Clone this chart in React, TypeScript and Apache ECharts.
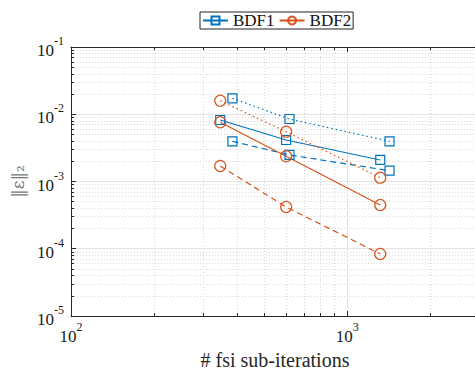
import React, { useEffect, useRef } from "react";
import * as echarts from "echarts";

const itersA = [347, 601, 1317];
const itersB = [384, 618, 1423];
const bdf1Solid = [0.00821, 0.00414, 0.00209];
const bdf1Dashed = [0.00396, 0.00248, 0.00145];
const bdf1Dotted = [0.01726, 0.0085, 0.00396];
const bdf2Solid = [0.0076, 0.00237, 0.000448];
const bdf2Dashed = [0.0017, 0.000418, 0.0000836];
const bdf2Dotted = [0.0159, 0.0055, 0.00114];

const xMinorTicks = [200, 300, 400, 500, 600, 700, 800, 900, 2000, 3000];
const yMinorTicks = [
  2e-5, 3e-5, 4e-5, 5e-5, 6e-5, 7e-5, 8e-5, 9e-5,
  2e-4, 3e-4, 4e-4, 5e-4, 6e-4, 7e-4, 8e-4, 9e-4,
  2e-3, 3e-3, 4e-3, 5e-3, 6e-3, 7e-3, 8e-3, 9e-3,
  2e-2, 3e-2, 4e-2, 5e-2, 6e-2, 7e-2, 8e-2, 9e-2,
];

const BLUE = "#0072BD";
const ORANGE = "#D95319";
const FONT = "Liberation Serif";

const zip = (xs: number[], ys: number[]) => xs.map((x, i) => [x, ys[i]]);

const expLabel = (v: number) => {
  const e = Math.log10(v);
  if (Math.abs(e - Math.round(e)) > 1e-6) return "";
  return "{b|10}{e|" + Math.round(e) + "}";
};

const rich = {
  b: { fontSize: 17, fontFamily: FONT, color: "#1a1a1a", lineHeight: 24, verticalAlign: "bottom" },
  e: { fontSize: 12, fontFamily: FONT, color: "#1a1a1a", lineHeight: 24, verticalAlign: "top" },
};

export default function App() {
  const ref = useRef<HTMLDivElement>(null);
  useEffect(() => {
    if (!ref.current) return;
    const chart = echarts.init(ref.current, null, { renderer: "svg" });
    const mkSeries = (
      name: string,
      xs: number[],
      ys: number[],
      color: string,
      type: any,
      symbol: string,
      size: number
    ) => ({
      name,
      type: "line",
      xAxisIndex: 0,
      yAxisIndex: 0,
      data: zip(xs, ys),
      symbol,
      symbolSize: size,
      showSymbol: true,
      lineStyle: { color, width: 1.2, type },
      itemStyle: { color: "rgba(0,0,0,0)", borderColor: color, borderWidth: 1.2 },
      emphasis: { disabled: true },
      z: 5,
    });
    const majorSplit = { show: true, lineStyle: { color: "#e3e3e3", width: 1 } };
    const minorSplit = { show: true, lineStyle: { color: "#d8d8d8", width: 1, type: [1, 2] } };
    const labelBase = { fontFamily: FONT, fontSize: 17, color: "#1a1a1a" };
    chart.setOption({
      animation: false,
      textStyle: { fontFamily: FONT },
      grid: {
        left: 71,
        top: 47,
        right: -4,
        bottom: 55,
        containLabel: false,
        outerBoundsMode: "none",
      },
      legend: {
        data: ["BDF1", "BDF2"],
        left: 200,
        top: 12,
        itemWidth: 25,
        itemHeight: 10,
        itemGap: 4,
        padding: [0, 2, 0, 2],
        borderColor: "#222",
        borderWidth: 1,
        backgroundColor: "#fff",
        textStyle: { fontFamily: FONT, fontSize: 17, lineHeight: 14, color: "#111" },
      },
      xAxis: [
        {
          type: "log",
          logBase: 10,
          min: 100,
          max: 3000,
          position: "bottom",
          axisLine: { show: true, lineStyle: { color: "#262626", width: 1 } },
          axisTick: { show: true, inside: true, length: 5, lineStyle: { color: "#262626" } },
          axisLabel: { ...labelBase, formatter: expLabel, rich, margin: 5 },
          splitLine: majorSplit,
          name: "# fsi sub-iterations",
          nameLocation: "middle",
          nameGap: 30,
          nameTextStyle: { fontFamily: FONT, fontSize: 20, color: "#262626" },
        },
        {
          type: "log",
          logBase: 10,
          min: 100,
          max: 3000,
          position: "bottom",
          axisLine: { show: false },
          axisTick: { show: true, inside: true, length: 3, customValues: xMinorTicks, lineStyle: { color: "#262626" } },
          axisLabel: { show: false },
          splitLine: minorSplit,
        },
        {
          type: "log",
          logBase: 10,
          min: 100,
          max: 3000,
          position: "top",
          axisLine: { show: true, lineStyle: { color: "#262626", width: 1 } },
          axisTick: { show: true, inside: true, length: 5, lineStyle: { color: "#262626" } },
          axisLabel: { show: false },
          splitLine: { show: false },
        },
        {
          type: "log",
          logBase: 10,
          min: 100,
          max: 3000,
          position: "top",
          axisLine: { show: false },
          axisTick: { show: true, inside: true, length: 3, customValues: xMinorTicks, lineStyle: { color: "#262626" } },
          axisLabel: { show: false },
          splitLine: { show: false },
        },
      ],
      yAxis: [
        {
          type: "log",
          logBase: 10,
          min: 1e-5,
          max: 1e-1,
          position: "left",
          axisLine: { show: true, lineStyle: { color: "#262626", width: 1 } },
          axisTick: { show: true, inside: true, length: 5, lineStyle: { color: "#262626" } },
          axisLabel: { ...labelBase, formatter: expLabel, rich, margin: 7 },
          splitLine: majorSplit,
          name: "‖ε‖₂",
          nameLocation: "middle",
          nameGap: 42,
          nameRotate: 90,
          nameTextStyle: { fontFamily: "DejaVu Serif", fontSize: 17, color: "#777" },
        },
        {
          type: "log",
          logBase: 10,
          min: 1e-5,
          max: 1e-1,
          position: "left",
          axisLine: { show: false },
          axisTick: { show: true, inside: true, length: 3, customValues: yMinorTicks, lineStyle: { color: "#262626" } },
          axisLabel: { show: false },
          splitLine: minorSplit,
        },
      ],
      series: [
        mkSeries("BDF1", itersA, bdf1Solid, BLUE, "solid", "rect", 9),
        mkSeries("BDF1 dashed", itersB, bdf1Dashed, BLUE, [6, 4], "rect", 9),
        mkSeries("BDF1 dotted", itersB, bdf1Dotted, BLUE, [1.5, 3], "rect", 9),
        mkSeries("BDF2", itersA, bdf2Solid, ORANGE, "solid", "circle", 11),
        mkSeries("BDF2 dashed", itersA, bdf2Dashed, ORANGE, [6, 4], "circle", 11),
        mkSeries("BDF2 dotted", itersA, bdf2Dotted, ORANGE, [1.5, 3], "circle", 11),
      ],
    });
    return () => chart.dispose();
  }, []);
  return (
    <div
      ref={ref}
      style={{ position: "fixed", left: 0, top: 0, width: 475, height: 371, background: "#fff" }}
    />
  );
}
